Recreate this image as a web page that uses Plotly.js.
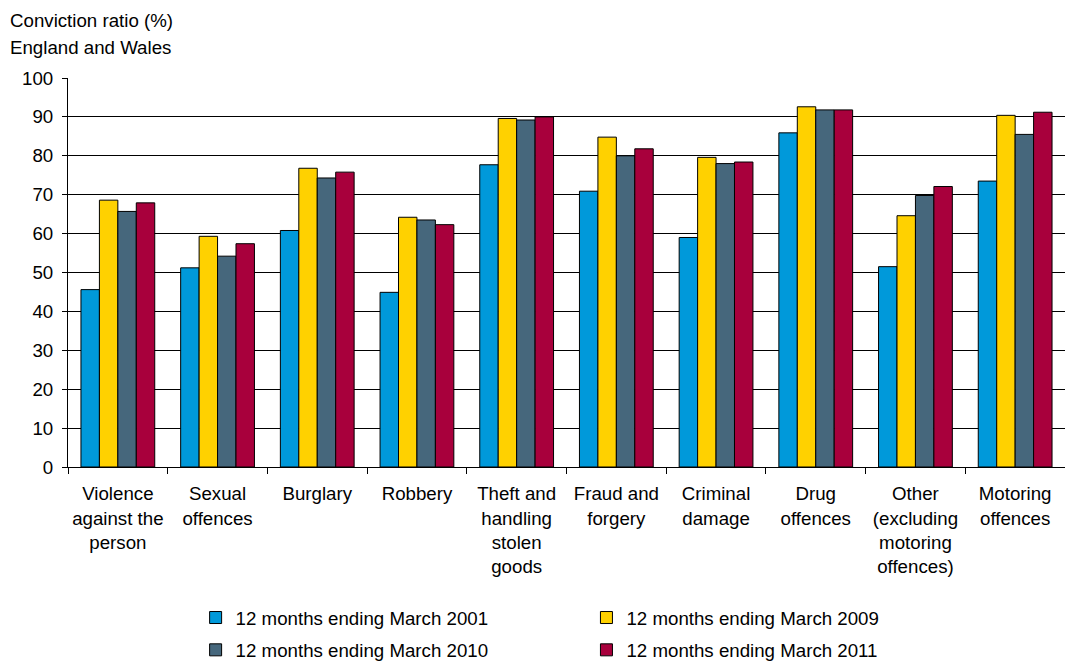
<!DOCTYPE html>
<html>
<head>
<meta charset="utf-8">
<script src="https://cdn.plot.ly/plotly-3.0.1.min.js"></script>
<style>html,body{margin:0;padding:0;background:#fff;}#chart{width:1065px;height:662px;}</style>
</head>
<body>
<div id="chart"></div>
<script>
const categories = [
  "Violence<br>against the<br>person",
  "Sexual<br>offences",
  "Burglary",
  "Robbery",
  "Theft and<br>handling<br>stolen<br>goods",
  "Fraud and<br>forgery",
  "Criminal<br>damage",
  "Drug<br>offences",
  "Other<br>(excluding<br>motoring<br>offences)",
  "Motoring<br>offences"
];
const seriesNames = [
  "12 months ending March 2001",
  "12 months ending March 2009",
  "12 months ending March 2010",
  "12 months ending March 2011"
];
const values2001 = [45.6, 51.2, 60.8, 44.9, 77.7, 70.9, 59.0, 85.9, 51.5, 73.5];
const values2009 = [68.6, 59.3, 76.8, 64.2, 89.6, 84.8, 79.6, 92.6, 64.6, 90.4];
const values2010 = [65.7, 54.2, 74.3, 63.5, 89.2, 80.0, 78.0, 91.8, 69.8, 85.5];
const values2011 = [67.9, 57.4, 75.8, 62.3, 90.0, 81.8, 78.4, 91.8, 72.1, 91.2];
const colors = ["#0099DA", "#FFD100", "#46677C", "#A8003C"];
const legendIds = ["legend", "legend2", "legend", "legend2"];
const titleLines = ["Conviction ratio (%)", "England and Wales"];
const allValues = [values2001, values2009, values2010, values2011];

const traces = allValues.map((v, i) => ({
  type: "bar",
  x: categories,
  y: v,
  name: seriesNames[i],
  legend: legendIds[i],
  legendgroup: "g" + i,
  marker: {color: colors[i], line: {color: "#000", width: 1}},
  hoverinfo: "y"
}));

const FS = 18.7;
const legendCommon = {
  orientation: "v",
  xanchor: "left",
  yanchor: "top",
  y: -0.339,
  font: {size: FS, color: "#000"},
  itemwidth: 30,
  tracegroupgap: 5,
  bgcolor: "rgba(0,0,0,0)"
};

const layout = {
  width: 1065,
  height: 662,
  margin: {l: 68, r: 0, t: 78, b: 195, autoexpand: false},
  paper_bgcolor: "#fff",
  plot_bgcolor: "#fff",
  font: {family: "Liberation Sans, Arial, sans-serif", size: FS, color: "#000"},
  barmode: "group",
  bargap: 0.26,
  bargroupgap: 0,
  showlegend: true,
  legend: Object.assign({}, legendCommon, {x: 0.128}),
  legend2: Object.assign({}, legendCommon, {x: 0.52}),
  xaxis: {
    type: "category",
    showline: true,
    linecolor: "#000",
    linewidth: 1,
    ticks: "outside",
    tickson: "boundaries",
    ticklen: 6,
    tickcolor: "#000",
    tickfont: {size: FS},
    tickangle: 0,
    showgrid: false,
    ticklabelstandoff: 10,
    fixedrange: true
  },
  yaxis: {
    range: [0, 100],
    dtick: 10,
    showline: true,
    linecolor: "#000",
    linewidth: 1,
    ticks: "outside",
    ticklen: 5,
    tickcolor: "#000",
    tickfont: {size: FS},
    showgrid: true,
    gridcolor: "#000",
    gridwidth: 1,
    zeroline: false,
    ticklabelstandoff: 5,
    fixedrange: true
  },
  annotations: titleLines.map((t, i) => ({
    text: t,
    xref: "paper", yref: "paper",
    x: 0, y: 1,
    xshift: -60, yshift: 58 - 27 * i,
    xanchor: "left", yanchor: "middle",
    align: "left",
    showarrow: false,
    font: {size: FS}
  }))
};

Plotly.newPlot("chart", traces, layout, {displayModeBar: false, staticPlot: true});
</script>
</body>
</html>
